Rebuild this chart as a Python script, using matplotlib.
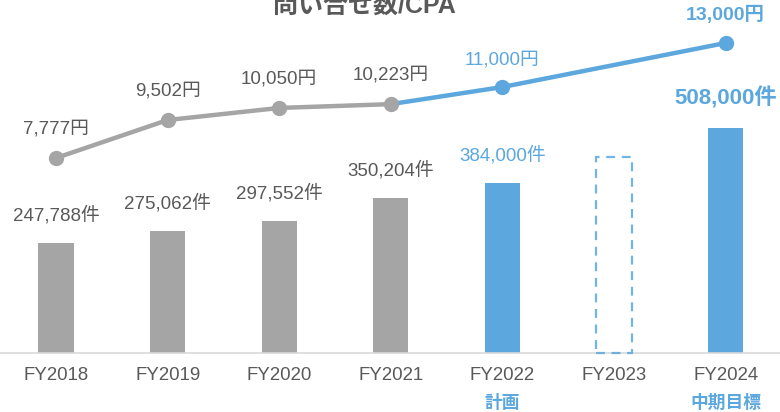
import matplotlib
matplotlib.use("Agg")
import matplotlib.pyplot as plt

plt.rcParams['font.family'] = ['Liberation Sans', 'Noto Sans CJK JP', 'DejaVu Sans']

years = ["FY2018", "FY2019", "FY2020", "FY2021", "FY2022", "FY2023", "FY2024"]
sub_labels = ["", "", "", "", "計画", "", "中期目標"]
inquiries = [247788, 275062, 297552, 350204, 384000, 442000, 508000]
inquiry_labels = ["247,788件", "275,062件", "297,552件", "350,204件", "384,000件", "", "508,000件"]
cpa_years_idx = [0, 1, 2, 3, 4, 6]
cpa = [7777, 9502, 10050, 10223, 11000, 13000]
cpa_labels = ["7,777円", "9,502円", "10,050円", "10,223円", "11,000円", "13,000円"]

GRAY = "#a5a5a5"
BLUE = "#5ba7de"
TXT = "#595959"

W, H = 780, 412
fig = plt.figure(figsize=(W/100, H/100), dpi=100)
base_px = 353
top_px = 20
ax = fig.add_axes([0, (H-base_px)/H, 1, (base_px-top_px)/H])
ax2 = ax.twinx()

x = list(range(len(years)))
ax.set_xlim(-0.502, 6.487)
ax2.set_xlim(-0.502, 6.487)
ax.set_ylim(0, 751700)
ax2.set_ylim(-1079, 14044)

bar_w = 0.315
colors = [GRAY, GRAY, GRAY, GRAY, BLUE, "none", BLUE]
for i in range(len(years)):
    if i == 5:
        ax.bar(x[i], inquiries[i], width=bar_w, fill=False, edgecolor=BLUE, alpha=0.85,
               linestyle=(0, (4, 3)), linewidth=1.6, zorder=3, clip_on=False)
    else:
        ax.bar(x[i], inquiries[i], width=bar_w, color=colors[i], zorder=2)

for i, lab in enumerate(inquiry_labels):
    if not lab:
        continue
    if i == 6:
        ax.text(x[i], inquiries[i] + 66000, lab, ha='center', va='center',
                color=BLUE, fontsize=16, fontweight='bold')
    elif i == 4:
        ax.text(x[i], inquiries[i] + 63000, lab, ha='center', va='center',
                color=BLUE, fontsize=13.5)
    else:
        ax.text(x[i], inquiries[i] + 63000, lab, ha='center', va='center',
                color=TXT, fontsize=13.5)

# CPA line
cx = [x[j] for j in cpa_years_idx]
ax2.plot(cx[:4], cpa[:4], color=GRAY, lw=3.2, zorder=3, solid_capstyle='round')
ax2.plot(cx[3:], cpa[3:], color=BLUE, lw=3.2, zorder=3, solid_capstyle='round')
ax2.plot(cx[:4], cpa[:4], 'o', color=GRAY, ms=10, zorder=4)
ax2.plot(cx[4:], cpa[4:], 'o', color=BLUE, ms=10, zorder=4)

for k, lab in enumerate(cpa_labels):
    if k < 4:
        ax2.text(cx[k], cpa[k] + 1330, lab, ha='center', va='center', color=TXT, fontsize=13.5)
    elif k == 4:
        ax2.text(cx[k], cpa[k] + 1250, lab, ha='center', va='center', color=BLUE, fontsize=13.5)
    else:
        ax2.text(cx[k], cpa[k] + 1270, lab, ha='center', va='center', color=BLUE, fontsize=14,
                 fontweight='bold')

for a in (ax, ax2):
    for s in a.spines.values():
        s.set_visible(False)
    a.set_yticks([])
ax2.set_xticks([])
ax.spines['bottom'].set_visible(True)
ax.spines['bottom'].set_color("#d9d9d9")
ax.spines['bottom'].set_linewidth(1.2)
ax.set_xticks(x)
ax.set_xticklabels(years, color=TXT, fontsize=13.4)
ax.tick_params(axis='x', length=0, pad=10)

for i, s in enumerate(sub_labels):
    if s:
        fig.text((56 + 111.6*i)/W, 1 - 403/H, s, ha='center', va='center',
                 color=BLUE, fontsize=12.8, fontweight='bold')

fig.text(364/W, 1 - 6/H, "問い合せ数/CPA", ha='center', va='center',
         color=TXT, fontsize=18, fontweight='bold')

fig.savefig("out.png", dpi=100)
